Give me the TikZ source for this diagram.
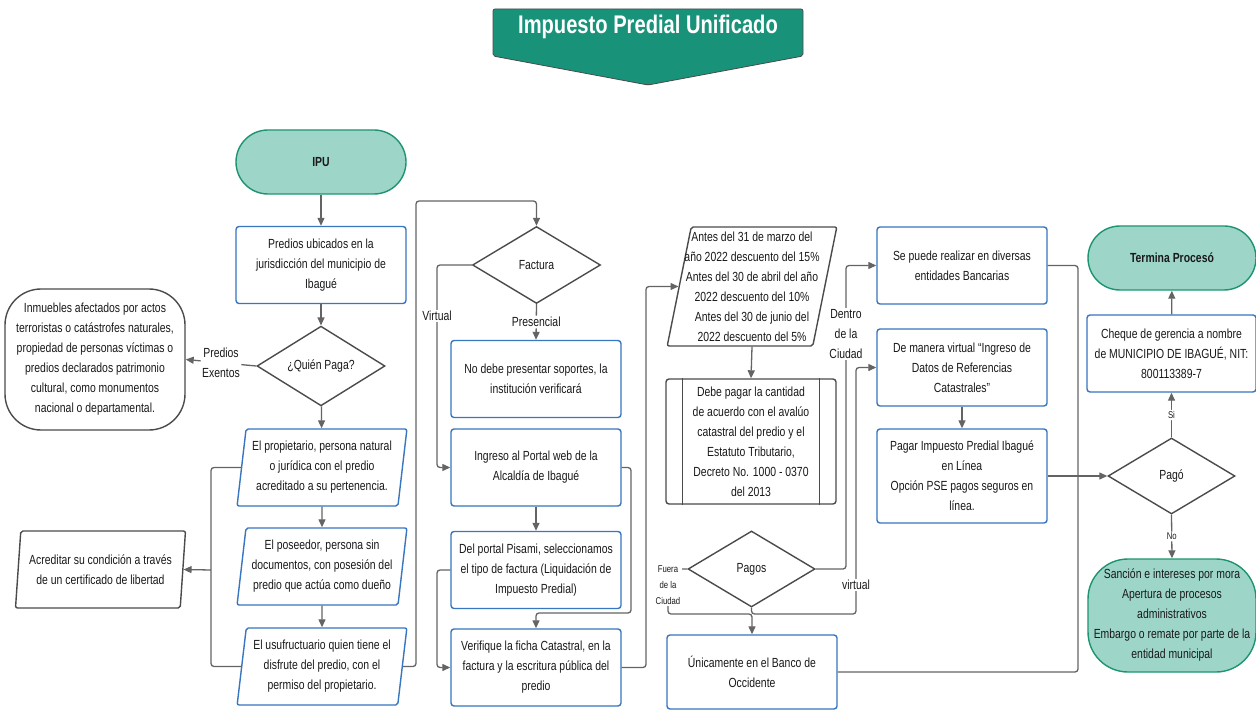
\documentclass[tikz,border=0pt]{standalone}
\usepackage{fontspec}
\setmainfont{Liberation Sans}[FakeStretch=0.79]
\usetikzlibrary{shapes.geometric,arrows.meta}
\definecolor{bblue}{RGB}{55,118,192}
\definecolor{lgray}{RGB}{100,100,100}
\definecolor{sgray}{RGB}{75,75,75}
\definecolor{tealfill}{RGB}{157,214,201}
\definecolor{tealdraw}{RGB}{28,148,112}
\definecolor{titlefill}{RGB}{24,147,122}
\definecolor{txt}{RGB}{25,25,25}
\begin{document}
\begin{tikzpicture}[x=1pt,y=-1pt,
  base/.style={font=\fontsize{13.2}{20}\selectfont, text=txt, align=center, inner sep=0pt},
  bluebox/.style={base, draw=bblue, line width=1.4pt, rounded corners=3pt, minimum width=170pt, minimum height=77pt},
  graybox/.style={base, draw=sgray, line width=1.4pt, rounded corners=3pt, minimum width=170pt, minimum height=125pt},
  para/.style={base, draw=bblue, line width=1.4pt, trapezium, trapezium stretches=true, trapezium left angle=81, trapezium right angle=99, minimum width=170pt, minimum height=77pt, rounded corners=2pt},
  gpara/.style={para, draw=sgray},
  dec/.style={base, draw=sgray, line width=1.4pt, diamond, minimum width=128pt, minimum height=77pt},
  term/.style={base, draw=tealdraw, fill=tealfill, line width=1.4pt, rounded corners=32pt, minimum width=170pt, minimum height=64pt},
  conn/.style={draw=lgray, line width=1.3pt, rounded corners=3pt},
  arr/.style={conn, -{Triangle[length=8pt,width=7pt]}},
  lab/.style={base, fill=white, inner sep=1.5pt},
  slab/.style={lab, font=\fontsize{9.8}{16}\selectfont}
]
\useasboundingbox (0,0) rectangle (1256,711);
\fill[white] (0,0) rectangle (1256,711);

% title
\filldraw[fill=titlefill, draw=sgray, line width=0.8pt, rounded corners=2pt]
  (493,9) -- (803,9) -- (803,56) -- (648,85) -- (493,56) -- cycle;
\node[font=\fontsize{25.5}{28}\selectfont\bfseries, text=white, inner sep=0pt] (title) at (648,27) {Impuesto Predial Unificado};

% column 1
\node[term, font=\fontsize{13.2}{20}\selectfont\bfseries] (ipu) at (321,162) {IPU};
\node[bluebox] (predios) at (321,265) {Predios ubicados en la\\jurisdicción del municipio de\\Ibagué};
\node[dec] (quien) at (321,366) {¿Quién Paga?};
\node[base, draw=sgray, line width=1.4pt, rounded corners=36pt, minimum width=180pt, minimum height=141pt] (inm) at (95,359.5)
  {Inmuebles afectados por actos\\terroristas o catástrofes naturales,\\propiedad de personas víctimas o\\predios declarados patrimonio\\cultural, como monumentos\\nacional o departamental.};
\node[para] (p1) at (322,467.5) {El propietario, persona natural\\o jurídica con el predio\\acreditado a su pertenencia.};
\node[para] (p2) at (322,566.5) {El poseedor, persona sin\\documentos, con posesión del\\predio que actúa como dueño};
\node[para] (p3) at (322,666.5) {El usufructuario quien tiene el\\disfrute del predio, con el\\permiso del propietario.};
\node[gpara] (acr) at (100.5,569.5) {Acreditar su condición a través\\de un certificado de libertad};

% column 2
\node[dec] (fact) at (536.5,265) {Factura};
\node[bluebox] (nodebe) at (536,379) {No debe presentar soportes, la\\institución verificará};
\node[bluebox] (ingreso) at (536,467.5) {Ingreso al Portal web de la\\Alcaldía de Ibagué};
\node[bluebox] (portal) at (536,570) {Del portal Pisami, seleccionamos\\el tipo de factura (Liquidación de\\Impuesto Predial)};
\node[bluebox] (verif) at (536,667.5) {Verifique la ficha Catastral, en la\\factura y la escritura pública del\\predio};

% column 3
\node[gpara, minimum width=170pt, minimum height=119pt, inner xsep=-7pt, trapezium left angle=77.7, trapezium right angle=102.3] (antes) at (752,286.5)
  {Antes del 31 de marzo del\\año 2022 descuento del 15\%\\Antes del 30 de abril del año\\2022 descuento del 10\%\\Antes del 30 de junio del\\2022 descuento del 5\%};
\node[graybox] (debe) at (751,441.5) {Debe pagar la cantidad\\de acuerdo con el avalúo\\catastral del predio y el\\Estatuto Tributario,\\Decreto No. 1000 - 0370\\del 2013};
\draw[sgray, line width=1.4pt] ([xshift=17pt]debe.north west) -- ([xshift=17pt]debe.south west);
\draw[sgray, line width=1.4pt] ([xshift=-17pt]debe.north east) -- ([xshift=-17pt]debe.south east);
\node[dec, minimum width=127pt, minimum height=76pt] (pagos) at (751.5,569) {Pagos};
\node[bluebox, minimum height=74pt] (unico) at (752,672) {Únicamente en el Banco de\\Occidente};

% column 4
\node[bluebox] (sepuede) at (962,265.5) {Se puede realizar en diversas\\entidades Bancarias};
\node[bluebox] (demanera) at (962,367.5) {De manera virtual “Ingreso de\\Datos de Referencias\\Catastrales”};
\node[bluebox, minimum height=94pt] (pagar) at (962,476) {Pagar Impuesto Predial Ibagué\\en Línea\\Opción PSE pagos seguros en\\línea.};

% column 5
\node[term, minimum width=168pt, font=\fontsize{13.2}{20}\selectfont\bfseries] (termina) at (1172,258) {Termina Procesó};
\node[bluebox, minimum width=169pt] (cheque) at (1171.5,353.5) {Cheque de gerencia a nombre\\de MUNICIPIO DE IBAGUÉ, NIT:\\800113389-7};
\node[dec, minimum width=127pt, minimum height=76pt] (pago) at (1171.5,476) {Pagó};
\node[term, minimum width=168pt, minimum height=113pt, rounded corners=40pt] (sancion) at (1172,615.5)
  {Sanción e intereses por mora\\Apertura de procesos\\administrativos\\Embargo o remate por parte de la\\entidad municipal};

% helper coordinates
\coordinate (b1) at (211,570);
\coordinate (c1) at (416,201);
\coordinate (c2) at (437,316);
\coordinate (c3) at (631,613);
\coordinate (c4) at (437,620);
\coordinate (c5) at (646,480);
\coordinate (c6) at (846,334);
\coordinate (c7) at (751.5,614);
\coordinate (c8) at (856,585);
\coordinate (c9) at (668,614);
\coordinate (j) at (1078,476);

% connectors column 1
\draw[arr] (ipu) -- (predios);
\draw[arr] (predios) -- (quien);
\draw[arr] (quien) -- (p1);
\draw[arr] (quien.west) -- (inm.east) node[lab, midway] (lpe) {Predios\\Exentos};
\draw[arr] (p1) -- (p2);
\draw[arr] (p2) -- (p3);
\draw[conn] (p1.west) -| (b1) |- (p3.west);
\draw[arr] (b1) -- (acr.east);

% column 2
\draw[arr] (p3.east) -| (c1) -| (fact.north);
\draw[arr] (fact.west) -| (c2) |- (ingreso.west);
\node[lab] (lvirt) at (c2) {Virtual};
\draw[arr] (fact.south) -- (nodebe.north) node[lab, midway] (lpres) {Presencial};
\draw[arr] (ingreso) -- (portal);
\draw[arr] (ingreso.east) -| (c3) -| (verif.north);
\draw[arr] (portal.west) -| (c4) |- (verif.west);
\draw[arr] (verif.east) -| (c5) |- (antes.west);

% column 3
\draw[arr] (antes.south) -- (debe.north);
\draw[arr] (pagos.east) -| (c6) |- (sepuede.west);
\node[lab] (ldentro) at (c6) {Dentro\\de la\\Ciudad};
\draw[arr] (pagos.south) -- (c7) -| (c8) |- (demanera.west);
\node[lab] (lvirt2) at (c8) {virtual};
\draw[arr] (pagos.west) -| (c9) -| (unico.north);
\node[slab] (lfuera) at (668,585) {Fuera\\de la\\Ciudad};

% column 4/5
\draw[arr] (demanera) -- (pagar);
\draw[conn] (sepuede.east) -| (j);
\draw[conn] (unico.east) -| (j);
\draw[arr] (pagar.east) -- (pago.west);
\draw[arr] (pago.north) -- (cheque.south) node[slab, midway] (lsi) {Si};
\draw[arr] (cheque) -- (termina);
\draw[arr] (pago.south) -- (sancion.north) node[slab, midway] (lno) {No};
\end{tikzpicture}
\end{document}
